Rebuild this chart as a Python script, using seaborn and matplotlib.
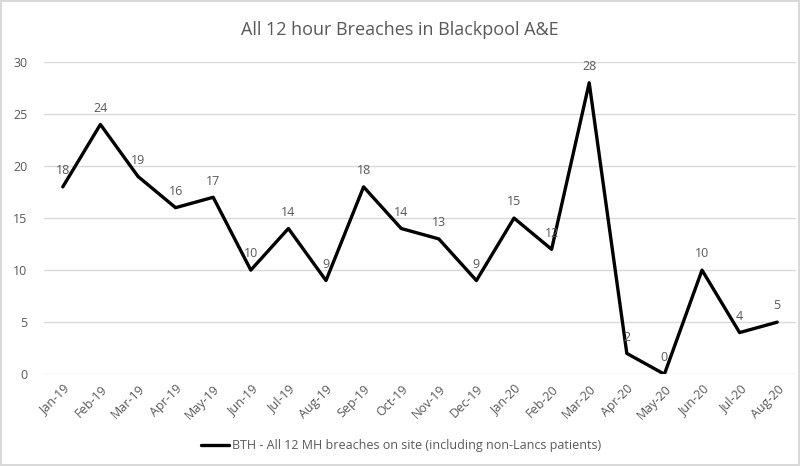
import matplotlib
matplotlib.use("Agg")
import matplotlib.pyplot as plt
import seaborn as sns
import pandas as pd

months = ['Jan-19', 'Feb-19', 'Mar-19', 'Apr-19', 'May-19', 'Jun-19', 'Jul-19', 'Aug-19',
          'Sep-19', 'Oct-19', 'Nov-19', 'Dec-19', 'Jan-20', 'Feb-20', 'Mar-20', 'Apr-20',
          'May-20', 'Jun-20', 'Jul-20', 'Aug-20']
breaches = [18, 24, 19, 16, 17, 10, 14, 9, 18, 14, 13, 9, 15, 12, 28, 2, 0, 10, 4, 5]
series_name = 'BTH - All 12 MH breaches on site (including non-Lancs patients)'

sns.set_style('white')
plt.rcParams['font.family'] = ['Open Sans', 'DejaVu Sans']
grey = '#595959'

df = pd.DataFrame({'Month': months, 'Breaches': breaches})

fig = plt.figure(figsize=(8, 4.66), dpi=100)
fig.patch.set_edgecolor('#d9d9d9')
fig.patch.set_linewidth(1.5)
ax = fig.add_axes([0.055, 0.197, 0.94, 0.67])

sns.lineplot(x='Month', y='Breaches', data=df, color='black', linewidth=2.4,
             sort=False, label=series_name, ax=ax)

for i, v in enumerate(breaches):
    ax.annotate(str(v), (i, v), xytext=(0, 7), textcoords='offset points',
                ha='center', va='bottom', fontsize=9, color=grey)

ax.set_xlim(-0.5, len(months) - 0.5)
ax.set_ylim(0, 30)
ax.set_yticks(range(0, 31, 5))
ax.yaxis.grid(True, color='#d9d9d9', linewidth=1)
ax.set_axisbelow(True)
for s in ax.spines.values():
    s.set_visible(False)
ax.tick_params(axis='both', length=0, labelsize=9, labelcolor=grey)
ax.tick_params(axis='y', pad=12)
ax.tick_params(axis='x', pad=6)
plt.setp(ax.get_xticklabels(), rotation=45, ha='right', rotation_mode='anchor')
ax.set_xlabel('')
ax.set_ylabel('')

fig.suptitle('All 12 hour Breaches in Blackpool A&E', y=0.955, fontsize=13, color=grey)
ax.legend(loc='center', bbox_to_anchor=(0.475, -0.228), frameon=False, fontsize=9,
          labelcolor=grey, handlelength=2.2, handletextpad=0.3)

fig.savefig('out.png', dpi=100, edgecolor=fig.get_edgecolor())
